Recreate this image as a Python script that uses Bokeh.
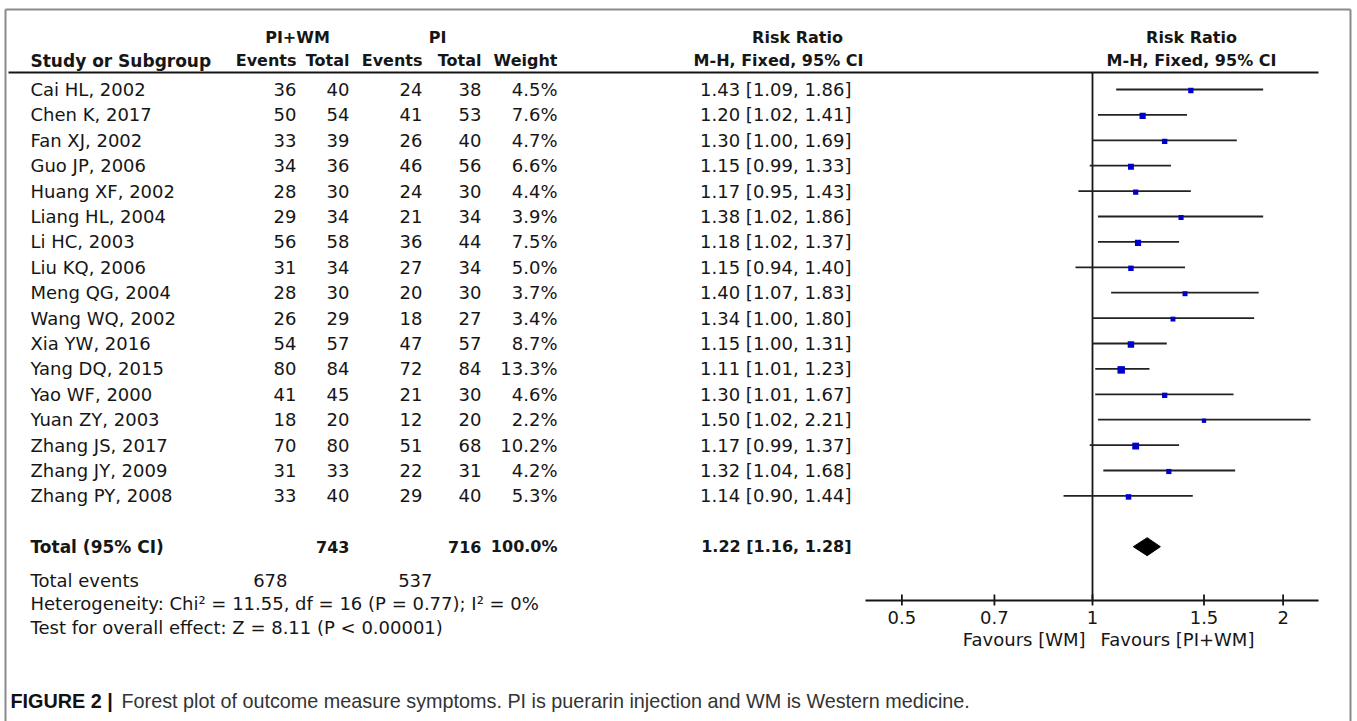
import math
from bokeh.plotting import figure
from bokeh.models import ColumnDataSource, Range1d, LogScale
from bokeh.core.properties import value
from bokeh.embed import file_html
from bokeh.resources import INLINE

# ---------------- data ----------------
studies = ["Cai HL, 2002", "Chen K, 2017", "Fan XJ, 2002", "Guo JP, 2006", "Huang XF, 2002",
           "Liang HL, 2004", "Li HC, 2003", "Liu KQ, 2006", "Meng QG, 2004", "Wang WQ, 2002",
           "Xia YW, 2016", "Yang DQ, 2015", "Yao WF, 2000", "Yuan ZY, 2003", "Zhang JS, 2017",
           "Zhang JY, 2009", "Zhang PY, 2008"]
events_exp = [36, 50, 33, 34, 28, 29, 56, 31, 28, 26, 54, 80, 41, 18, 70, 31, 33]
total_exp = [40, 54, 39, 36, 30, 34, 58, 34, 30, 29, 57, 84, 45, 20, 80, 33, 40]
events_ctl = [24, 41, 26, 46, 24, 21, 36, 27, 20, 18, 47, 72, 21, 12, 51, 22, 29]
total_ctl = [38, 53, 40, 56, 30, 34, 44, 34, 30, 27, 57, 84, 30, 20, 68, 31, 40]
weights = [4.5, 7.6, 4.7, 6.6, 4.4, 3.9, 7.5, 5.0, 3.7, 3.4, 8.7, 13.3, 4.6, 2.2, 10.2, 4.2, 5.3]
rr = [1.43, 1.20, 1.30, 1.15, 1.17, 1.38, 1.18, 1.15, 1.40, 1.34, 1.15, 1.11, 1.30, 1.50, 1.17, 1.32, 1.14]
rr_lo = [1.09, 1.02, 1.00, 0.99, 0.95, 1.02, 1.02, 0.94, 1.07, 1.00, 1.00, 1.01, 1.01, 1.02, 0.99, 1.04, 0.90]
rr_hi = [1.86, 1.41, 1.69, 1.33, 1.43, 1.86, 1.37, 1.40, 1.83, 1.80, 1.31, 1.23, 1.67, 2.21, 1.37, 1.68, 1.44]

pooled_total_exp = 743
pooled_total_ctl = 716
pooled_events_exp = 678
pooled_events_ctl = 537
pooled_weight = 100.0
pooled_rr = 1.22
pooled_lo = 1.16
pooled_hi = 1.28

tick_values = [0.5, 0.7, 1, 1.5, 2]
tick_labels = ["0.5", "0.7", "1", "1.5", "2"]
null_value = 1

heterogeneity = "Heterogeneity: Chi\u00b2 = 11.55, df = 16 (P = 0.77); I\u00b2 = 0%"
overall = "Test for overall effect: Z = 8.11 (P < 0.00001)"
caption_head = "FIGURE 2 |"
caption_body = "Forest plot of outcome measure symptoms. PI is puerarin injection and WM is Western medicine."

# ---------------- layout ----------------
W, H = 1357, 721
X_NULL_PX = 1092      # pixel where RR = 1
PX_PER_LN = 275       # pixels per natural-log unit
AXIS_LIMITS = (0.438, 2.275)
FONT = "DejaVu Sans"
FS = "18px"
FSB = "16px"
FSB2 = "17px"
INK = "#161616"

ROW0, DY = 89, 25.4
n = len(studies)
row_y = [ROW0 + i * DY for i in range(n)]
y_hdr1, y_hdr2, y_rule = 37, 60, 72
y_total = ROW0 + (n + 1) * DY
y_events, y_het, y_test = 580, 603, 627
y_axis = 600
y_ticklab, y_fav = 617, 639
y_caption = 700

X_STUDY = 30
X_EV1, X_TOT1, X_EV2, X_TOT2, X_W, X_CI = 296, 349, 422, 481, 557, 851
X_SUM1, X_SUM2 = 287, 432
X_CI_C1, X_CI_C2 = 797, 778
X_GR_C = 1191

p = figure(width=W, height=H, output_backend="svg", toolbar_location=None,
           x_range=Range1d(0, W), y_range=Range1d(H, 0), min_border=0,
           x_axis_location=None, y_axis_location=None)
p.outline_line_color = None
p.grid.visible = False
p.background_fill_color = "white"
p.border_fill_color = "white"
p.extra_x_ranges = {"rr": Range1d(math.exp((0 - X_NULL_PX) / PX_PER_LN),
                                  math.exp((W - X_NULL_PX) / PX_PER_LN))}
p.extra_x_scales = {"rr": LogScale()}


def txt(xs, ys, texts, align, bold=False, size=FS, font=FONT, color=INK, x_range_name="default"):
    src = ColumnDataSource(dict(x=xs, y=ys, t=texts))
    p.text(x="x", y="y", text="t", source=src, text_align=align, text_baseline="middle",
           text_font=value(font), text_font_size=value(size),
           text_font_style="bold" if bold else "normal", text_color=color,
           x_range_name=x_range_name)


# outer frame (left, top, right)
p.multi_line(xs=[[5, 5], [5, 1350], [1350, 1350]], ys=[[H + 5, 9], [9, 9], [9, H + 5]],
             line_color="#8a8a8a", line_width=2)

# headers
txt([297, 437, X_CI_C1, X_GR_C], [y_hdr1] * 4, ["PI+WM", "PI", "Risk Ratio", "Risk Ratio"],
    "center", bold=True, size=FSB)
txt([X_STUDY], [y_hdr2], ["Study or Subgroup"], "left", bold=True, size=FSB2)
txt([X_EV1, X_TOT1, X_EV2, X_TOT2, X_W], [y_hdr2] * 5,
    ["Events", "Total", "Events", "Total", "Weight"], "right", bold=True, size=FSB)
txt([X_CI_C2, X_GR_C], [y_hdr2] * 2, ["M-H, Fixed, 95% CI", "M-H, Fixed, 95% CI"], "center",
    bold=True, size=FSB)
p.segment(x0=[8], y0=[y_rule], x1=[1318], y1=[y_rule], line_color=INK, line_width=2)

# study rows
txt([X_STUDY] * n, row_y, studies, "left")
for col_x, vals in [(X_EV1, events_exp), (X_TOT1, total_exp), (X_EV2, events_ctl), (X_TOT2, total_ctl)]:
    txt([col_x] * n, row_y, [str(v) for v in vals], "right")
txt([X_W] * n, row_y, [f"{w:.1f}%" for w in weights], "right")
txt([X_CI] * n, row_y, [f"{a:.2f} [{b:.2f}, {c:.2f}]" for a, b, c in zip(rr, rr_lo, rr_hi)], "right")

# total row
txt([X_STUDY], [y_total], ["Total (95% CI)"], "left", bold=True, size=FSB2)
txt([X_TOT1, X_TOT2, X_W, X_CI], [y_total] * 4,
    [str(pooled_total_exp), str(pooled_total_ctl), f"{pooled_weight:.1f}%",
     f"{pooled_rr:.2f} [{pooled_lo:.2f}, {pooled_hi:.2f}]"], "right", bold=True, size=FSB)
txt([X_STUDY], [y_events], ["Total events"], "left")
txt([X_SUM1, X_SUM2], [y_events] * 2, [str(pooled_events_exp), str(pooled_events_ctl)], "right")
txt([X_STUDY, X_STUDY], [y_het, y_test], [heterogeneity, overall], "left")

# forest: null line
p.segment(x0=[null_value], y0=[y_rule], x1=[null_value], y1=[y_axis],
          line_color=INK, line_width=1.8, x_range_name="rr")
# CIs
p.segment(x0=rr_lo, y0=row_y, x1=rr_hi, y1=row_y, line_color="#222222", line_width=1.8,
          x_range_name="rr")
sq = [2.2 + 1.45 * math.sqrt(w) for w in weights]
p.scatter(x=rr, y=[y + 1 for y in row_y], size=sq, marker="square", fill_color="#0000C8",
          line_color=None, x_range_name="rr")
# pooled diamond
p.patch(x=[pooled_lo, pooled_rr, pooled_hi, pooled_rr], y=[y_total, y_total - 9, y_total, y_total + 9],
        fill_color="black", line_color="black", line_width=1, x_range_name="rr")

# axis
p.segment(x0=[AXIS_LIMITS[0]], y0=[y_axis], x1=[AXIS_LIMITS[1]], y1=[y_axis],
          line_color=INK, line_width=1.8, x_range_name="rr")
p.segment(x0=tick_values, y0=[y_axis - 6] * len(tick_values), x1=tick_values,
          y1=[y_axis + 5] * len(tick_values), line_color=INK, line_width=1.8, x_range_name="rr")
txt(tick_values, [y_ticklab] * len(tick_values), tick_labels, "center", x_range_name="rr")
fav = ColumnDataSource(dict(x=[null_value, null_value], y=[y_fav, y_fav],
                            t=["Favours [WM]", "Favours [PI+WM]"], a=["right", "left"],
                            xo=[-7, 8]))
p.text(x="x", y="y", text="t", source=fav, text_align="a", x_offset="xo", text_baseline="middle",
       text_font=value(FONT), text_font_size=value(FS), text_color=INK, x_range_name="rr")

# caption
txt([10], [y_caption], [caption_head], "left", bold=True, size="19.8px", font="Liberation Sans",
    color="#111111")
txt([121], [y_caption], [caption_body], "left", size="19.8px", font="Liberation Sans", color="#333333")

open("out.html", "w").write(file_html(p, INLINE))
